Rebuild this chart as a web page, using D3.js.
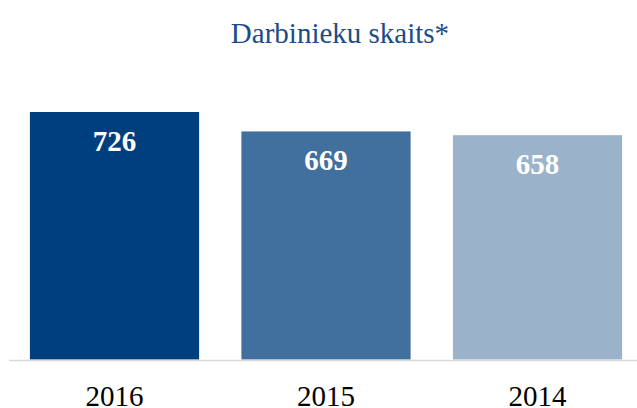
<!DOCTYPE html>
<html><head><meta charset="utf-8">
<script src="https://cdn.jsdelivr.net/npm/d3@7"></script>
<style>body{margin:0;background:#fff}svg{display:block}
text{font-family:"Liberation Serif","Times New Roman",serif;}</style>
</head><body>
<script>
const categories = ["2016", "2015", "2014"];
const values = [726, 669, 658];
const colors = ["#003F7D", "#41709E", "#9AB3CB"];
const title = "Darbinieku skaits*";

const W = 637, H = 408;
const FONT = "'Liberation Serif', 'Times New Roman', serif";
const svg = d3.select("body").append("svg").attr("width", W).attr("height", H);
const base = 359.5;
const x = d3.scaleBand().domain(categories).range([8.75, 643.25]).paddingInner(0.2).paddingOuter(0.1);
const y = d3.scaleLinear().domain([0, 726]).range([base, 112]);

svg.append("text").attr("x", 340).attr("y", 43).attr("text-anchor", "middle")
  .style("font-family", FONT).attr("font-size", 29)
  .attr("fill", "#1A4C87").text(title);

svg.selectAll("rect.bar").data(values).join("rect").attr("class", "bar")
  .attr("x", (d, i) => x(categories[i])).attr("width", x.bandwidth())
  .attr("y", d => y(d)).attr("height", d => base - y(d))
  .attr("fill", (d, i) => colors[i]);

svg.append("line").attr("x1", 9).attr("x2", W).attr("y1", base + 1).attr("y2", base + 1)
  .attr("stroke", "#D9D9D9").attr("stroke-width", 1.5);

svg.selectAll("text.val").data(values).join("text").attr("class", "val")
  .attr("x", (d, i) => x(categories[i]) + x.bandwidth() / 2).attr("y", d => y(d) + 39)
  .attr("text-anchor", "middle").style("font-family", FONT)
  .attr("font-weight", "bold").attr("font-size", 29).attr("fill", "#fff").text(d => d);

const xAxis = svg.append("g").attr("transform", `translate(0,${base})`)
  .call(d3.axisBottom(x).tickSize(0).tickPadding(0));
xAxis.select(".domain").remove();
xAxis.selectAll("text").style("font-family", FONT).attr("dy", null).attr("y", 46)
  .attr("font-size", 29).attr("fill", "#000");
</script>
</body></html>
